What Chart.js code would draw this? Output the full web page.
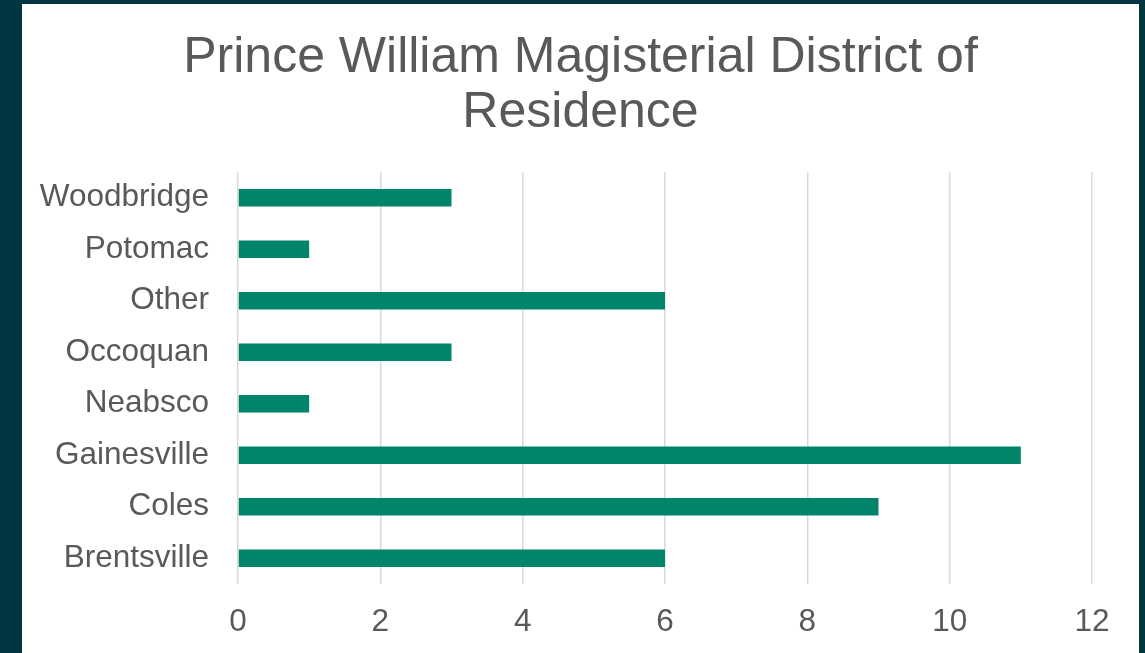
<!DOCTYPE html>
<html>
<head>
<meta charset="utf-8">
<script src="https://cdn.jsdelivr.net/npm/chart.js@4/dist/chart.umd.min.js"></script>
<style>
  html, body { margin: 0; padding: 0; width: 1145px; height: 653px; background: #013641; overflow: hidden; }
  #panel { position: absolute; left: 22px; top: 4px; width: 1117px; height: 649px; background: #ffffff; }
  #c { display: block; }
</style>
</head>
<body>
<div id="panel"><canvas id="c" width="1117" height="649"></canvas></div>
<script>
const titleLines = ["Prince William Magisterial District of", "Residence"];
const categories = ["Woodbridge", "Potomac", "Other", "Occoquan", "Neabsco", "Gainesville", "Coles", "Brentsville"];
const counts = [3, 1, 6, 3, 1, 11, 9, 6];
const xTicks = [0, 2, 4, 6, 8, 10, 12];

const textColor = "#595959";
const fontFamily = "'Liberation Sans', Arial, sans-serif";

new Chart(document.getElementById("c"), {
  type: "bar",
  data: {
    labels: categories,
    datasets: [{
      data: counts,
      backgroundColor: "#00856A",
      borderWidth: 0,
      barPercentage: 0.34,
      categoryPercentage: 1.0
    }]
  },
  options: {
    indexAxis: "y",
    responsive: false,
    animation: false,
    layout: { padding: 0 },
    plugins: {
      legend: { display: false },
      tooltip: { enabled: false },
      title: {
        display: true,
        text: titleLines,
        color: textColor,
        font: { family: fontFamily, size: 50, weight: "normal", lineHeight: 1.1 },
        padding: { top: 27, bottom: 31 }
      }
    },
    scales: {
      x: {
        min: 0,
        max: 12,
        afterBuildTicks: (axis) => { axis.ticks = xTicks.map(v => ({ value: v })); },
        afterFit: (axis) => { axis.height = 69; axis.paddingRight = 47; },
        grid: { color: "#d9d9d9", lineWidth: 1.5, drawTicks: false },
        border: { display: false },
        ticks: {
          color: textColor,
          padding: 19,
          font: { family: fontFamily, size: 31.5 }
        }
      },
      y: {
        afterFit: (axis) => { axis.width = 216; },
        grid: { display: false, drawTicks: false },
        border: { display: false },
        ticks: {
          color: textColor,
          padding: 29,
          font: { family: fontFamily, size: 31.5 }
        }
      }
    }
  }
});
</script>
</body>
</html>
